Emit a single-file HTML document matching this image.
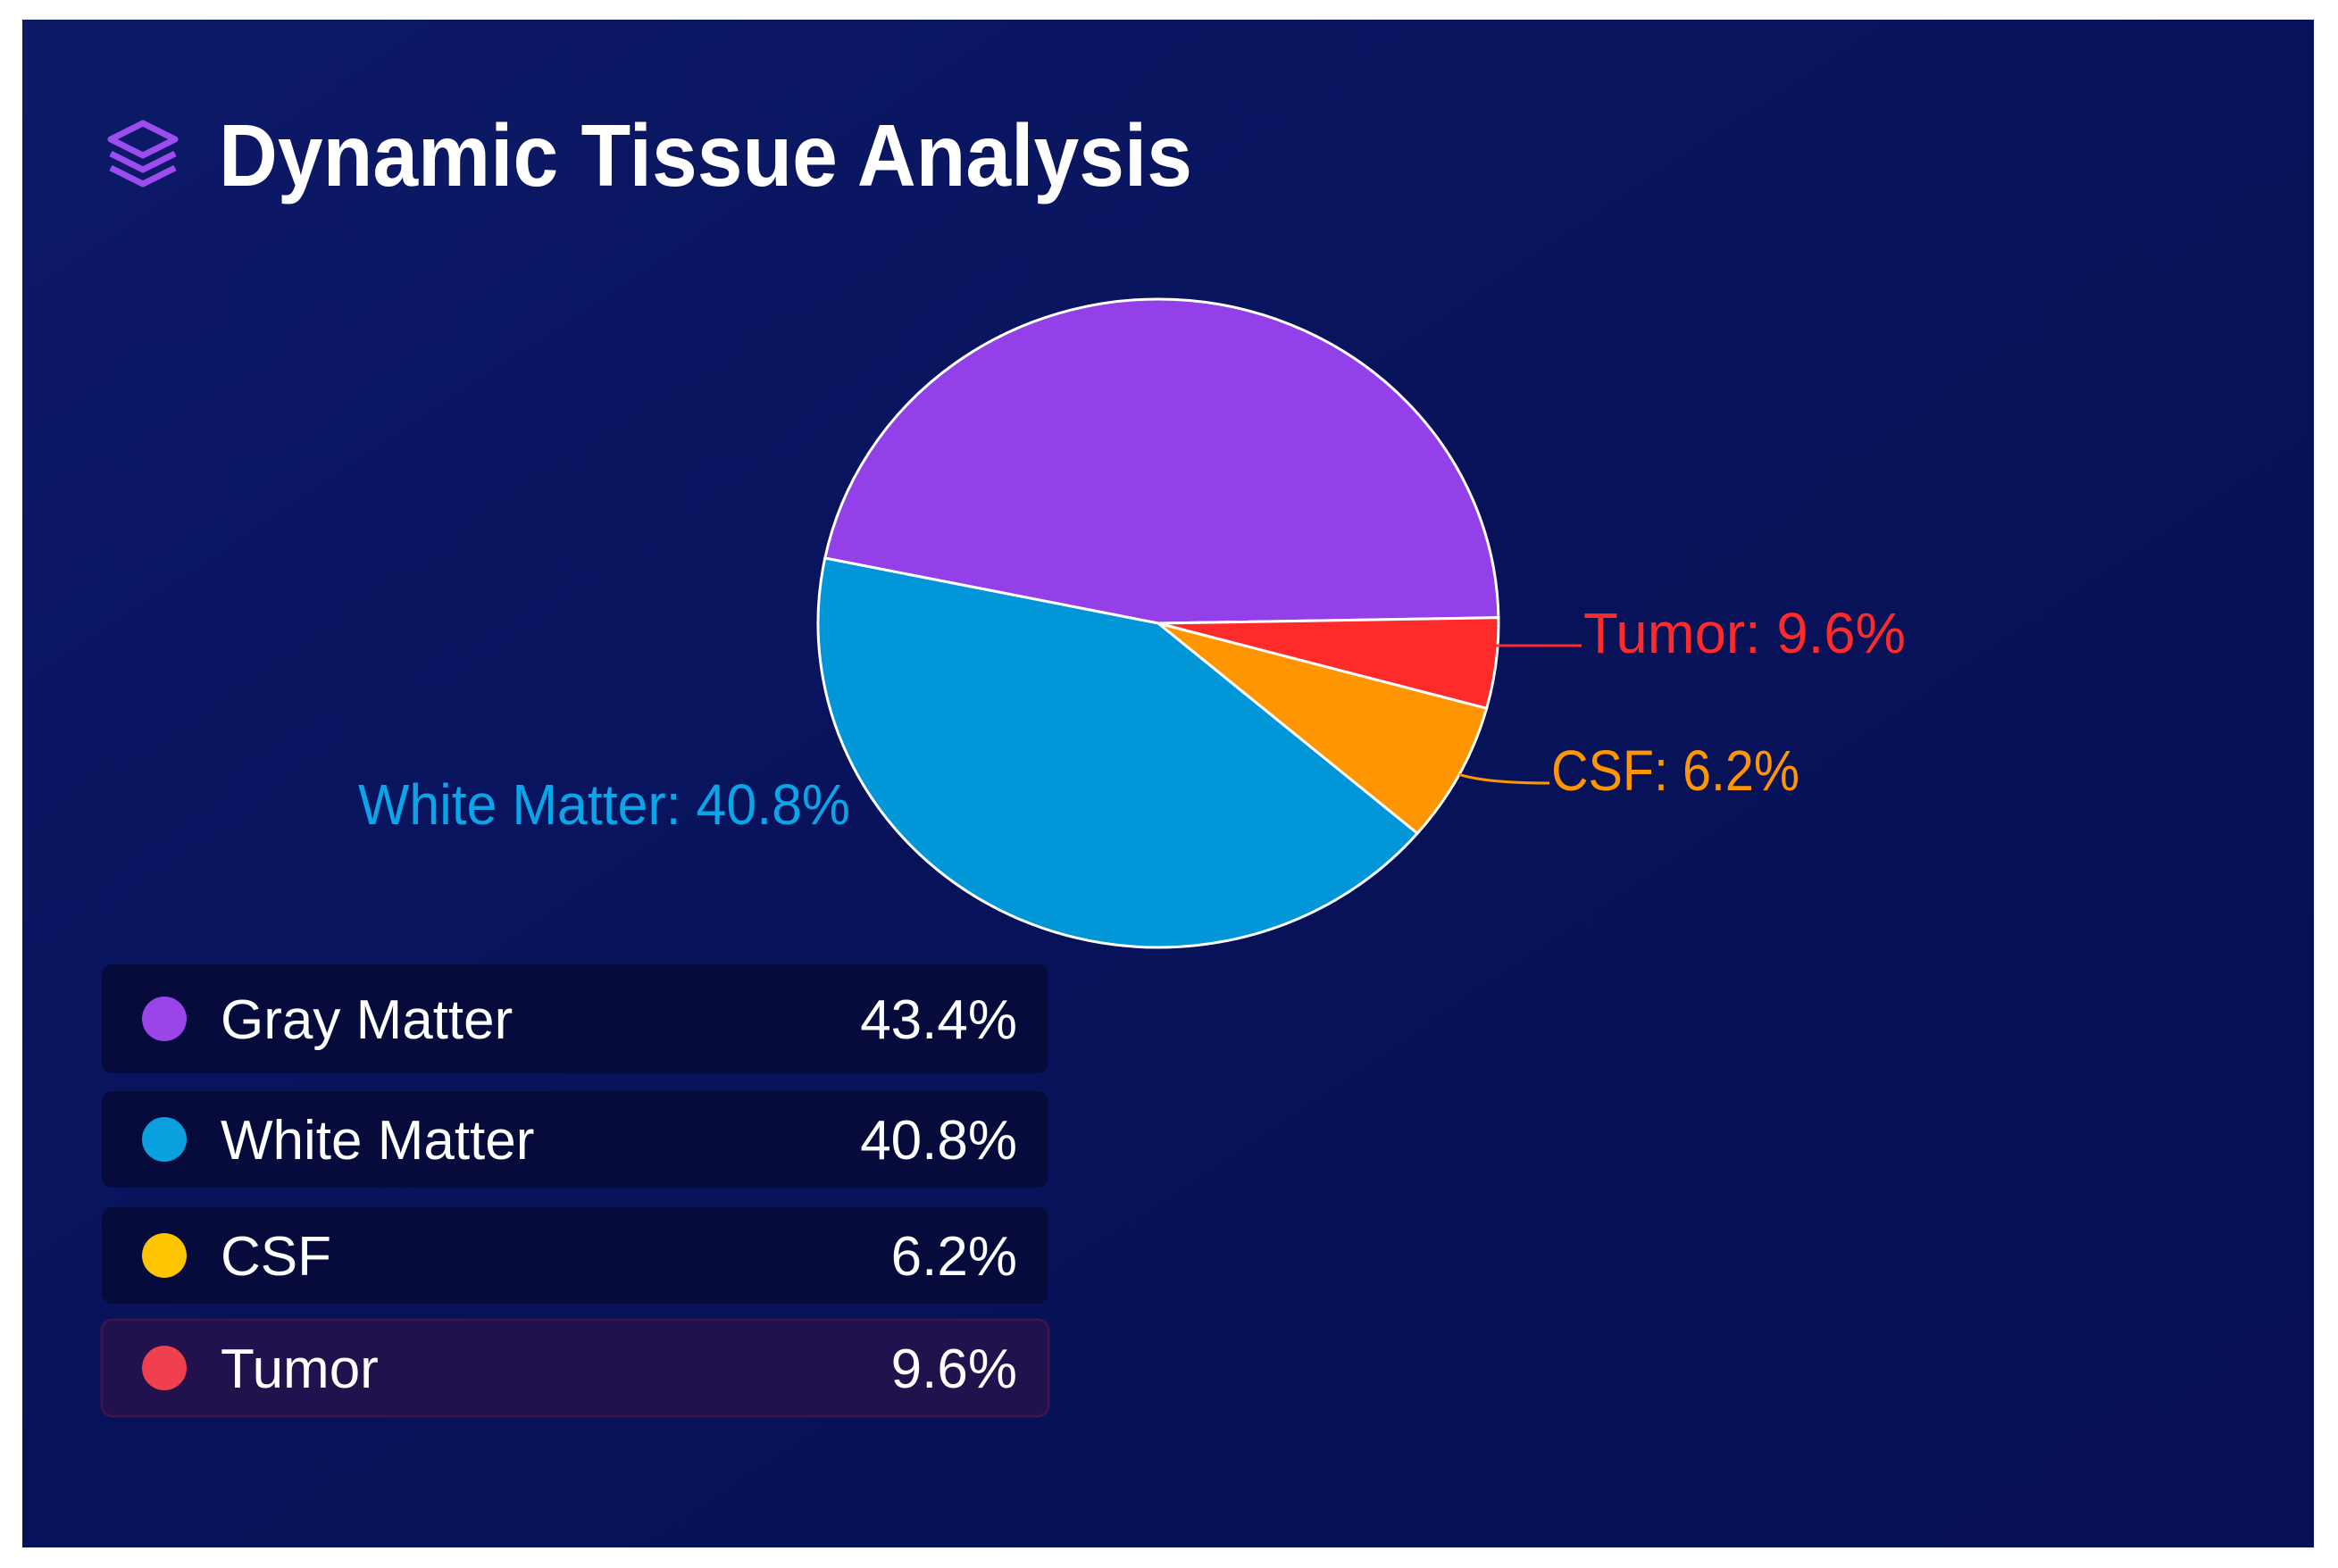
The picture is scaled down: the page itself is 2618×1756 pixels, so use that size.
<!DOCTYPE html>
<html><head><meta charset="utf-8"><style>
html,body{margin:0;padding:0;background:#fff;}
svg{display:block;font-family:"Liberation Sans",sans-serif;}
</style></head><body>
<svg id="chart" width="2618" height="1756" viewBox="0 0 2618 1756" xmlns="http://www.w3.org/2000/svg">
<defs>
<linearGradient id="bg" x1="0" y1="0" x2="1" y2="1">
<stop offset="0" stop-color="#0d1a68"/><stop offset="0.5" stop-color="#07125a"/><stop offset="1" stop-color="#061052"/>
</linearGradient>
</defs>
<rect x="0" y="0" width="2618" height="1756" fill="#ffffff"/>
<rect x="25" y="22" width="2566" height="1711" fill="url(#bg)"/>
<g fill="none" stroke="#9b4df0" stroke-width="7" stroke-linejoin="round">
<path d="M160 138 L196 156 L160 174 L124 156 Z"/>
<path d="M124 172 L160 190 L196 172"/>
<path d="M124 188 L160 206 L196 188"/>
</g>
<text x="245" y="208" font-size="98" font-weight="bold" fill="#ffffff" textLength="1090" lengthAdjust="spacingAndGlyphs">Dynamic Tissue Analysis</text>
<g id="pie"></g>
<g id="labels"></g>
<g id="legend"></g>
</svg>
<script>
const categories = ["Gray Matter", "White Matter", "CSF", "Tumor"];
const sliceValues = [46.5, 42.0, 7.0, 4.5];
const labelValues = [43.4, 40.8, 6.2, 9.6];
const sliceColors = ["#9440e8", "#0096d8", "#ff9500", "#ff2a2a"];
const dotColors = ["#9b45e8", "#0aa0e0", "#ffc400", "#f04050"];

const NS = "http://www.w3.org/2000/svg";
const cx = 1297, cy = 698, rx = 381, ry = 363;
const startDeg = -1;
function pt(deg){ const r = deg*Math.PI/180; return [cx + rx*Math.cos(r), cy + ry*Math.sin(r)]; }
function mk(tag, attrs){ const e = document.createElementNS(NS, tag); for (const k in attrs) e.setAttribute(k, attrs[k]); return e; }

const pie = document.getElementById("pie");
const total = sliceValues.reduce((a,b)=>a+b,0);
let a0 = startDeg;
const mids = [];
sliceValues.forEach((v,i)=>{
  const sweep = v/total*360;
  const a1 = a0 - sweep;
  const p0 = pt(a0), p1 = pt(a1);
  const large = sweep > 180 ? 1 : 0;
  const d = `M${cx},${cy} L${p0[0]},${p0[1]} A${rx},${ry} 0 ${large} 0 ${p1[0]},${p1[1]} Z`;
  const path = mk("path", {d: d, fill: sliceColors[i], stroke: "#ffffff", "stroke-width": 3});
  
  
  pie.appendChild(path);
  mids.push((a0 + a1)/2);
  a0 = a1;
});

const labels = document.getElementById("labels");
// [textX, baselineY, anchor, showLeader, textLength]
const labelPos = [null, [952, 923, "end", false, 551], [1737, 885, "start", true, 278], [1773, 731, "start", true, 361]];
categories.forEach((c,i)=>{
  const lp = labelPos[i];
  if (!lp) return;
  if (lp[3]) {
    const m = pt(mids[i]);
    const ex = lp[0] - 2, ey = lp[1] - 8;
    const d = i===3 ? `M${m[0]},${ey} L${ex},${ey}` : `M${m[0]},${m[1]} Q${m[0]+30},${ey} ${ex},${ey}`;
    const line = mk("path", {d: d, fill: "none", stroke: sliceColors[i], "stroke-width": 3});
    
    
    labels.appendChild(line);
  }
  const t = mk("text", {x: lp[0], y: lp[1], "font-size": 64, "text-anchor": lp[2], fill: i===1 ? "#0aa5e8" : sliceColors[i], textLength: lp[4], lengthAdjust: "spacingAndGlyphs"});
  t.textContent = c + ": " + labelValues[i] + "%";
  
  
  labels.appendChild(t);
});

const legend = document.getElementById("legend");
const rowTops = [1080, 1222, 1352, 1478];
categories.forEach((c,i)=>{
  const top = rowTops[i];
  const h = i===0 ? 122 : 108;
  const g = mk("g", {});
  
  
  const isT = i===3;
  const r = mk("rect", {x: 114, y: top, width: 1060, height: h, rx: 12, fill: isT ? "#21114c" : "#060b3c", stroke: isT ? "#3a1548" : "none", "stroke-width": 3});
  
  
  g.appendChild(r);
  const cyR = top + h/2;
  const dot = mk("circle", {cx: 184, cy: cyR, r: 25, fill: dotColors[i]});
  
  
  g.appendChild(dot);
  const t = mk("text", {x: 247, y: cyR+22, "font-size": 62, fill: "#ffffff"});
  t.textContent = c;
  
  
  g.appendChild(t);
  const v = mk("text", {x: 1139, y: cyR+22, "font-size": 62, "text-anchor": "end", fill: "#ffffff"});
  v.textContent = labelValues[i] + "%";
  
  
  g.appendChild(v);
  legend.appendChild(g);
});
</script>
</body></html>
